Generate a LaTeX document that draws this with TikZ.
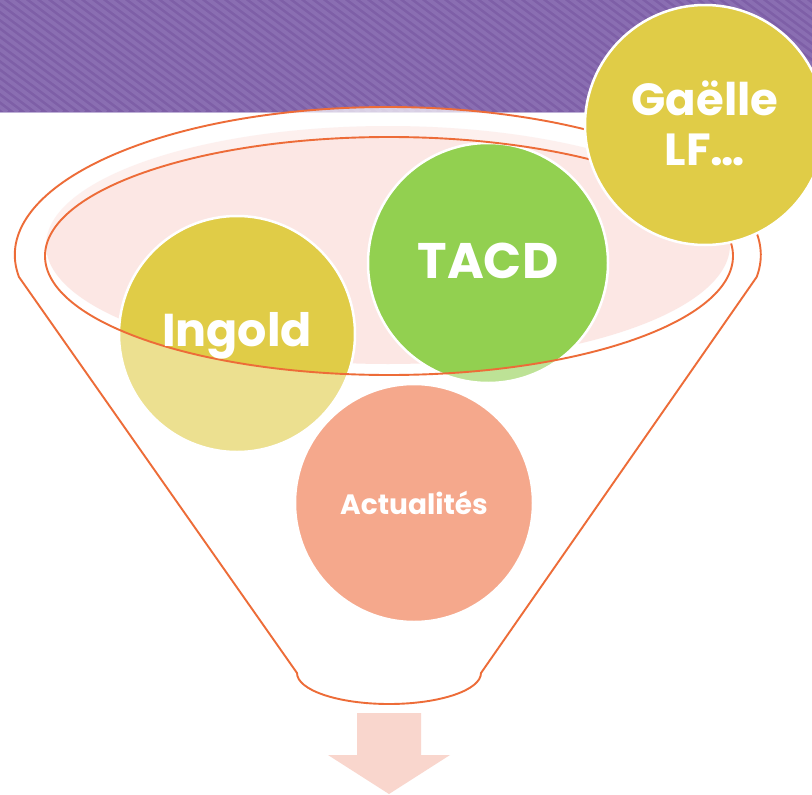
\documentclass[tikz,border=0pt]{standalone}
\usepackage{fontspec}
\setmainfont{Poppins}
\definecolor{bandbase}{RGB}{126,95,167}
\definecolor{bandstripe}{RGB}{138,110,178}
\definecolor{bandedge}{RGB}{190,176,214}
\definecolor{funnelline}{RGB}{237,108,56}
\definecolor{pinkfill}{RGB}{252,231,228}
\definecolor{yellowc}{RGB}{224,204,71}
\definecolor{greenc}{RGB}{146,208,80}
\definecolor{salmonc}{RGB}{245,168,140}
\definecolor{arrowc}{RGB}{249,214,205}
\tikzset{
  bubble/.style={circle, draw=white, line width=2.5pt, minimum size=#1, inner sep=0pt},
  bubbletext/.style={text=white, font=\bfseries, align=center, inner sep=0pt},
  funneledge/.style={draw=funnelline, line width=1.9pt},
}
\begin{document}
\begin{tikzpicture}[x=1pt, y=-1pt]
\useasboundingbox (0,0) rectangle (812,795);
\fill[white] (0,0) rectangle (812,795);
% purple band
\begin{scope}
  \clip (0,0) rectangle (812,112);
  \fill[bandbase] (0,0) rectangle (812,112);
  \foreach \i in {-200,-189,...,820} {
    \draw[bandstripe, line width=3.8pt] (\i,-10) -- ++(163,122);
  }
\end{scope}
\draw[bandedge, line width=0.8pt] (0,112.5) -- (812,112.5);
% outer funnel (semi-transparent fill over band)
\def\funnelpath{(19,277) arc[start angle=171.45, end angle=368.55, x radius=373, y radius=148] -- (481,673) arc[start angle=0, end angle=180, x radius=92, y radius=31] -- cycle}
\fill[white, opacity=0.5] \funnelpath;
% pink rim
\fill[pinkfill] (388,245) ellipse[x radius=342, y radius=119];
% circles inside funnel
\node[bubble=236pt, fill=yellowc] (ingold) at (237,334) {};
\node[bubble=240pt, fill=greenc] (tacd) at (488,263) {};
% front overlay lightening the part below the rim
\fill[white, opacity=0.4, even odd rule] \funnelpath (389,256) ellipse[x radius=344, y radius=119];
% funnel outlines
\draw[funneledge] \funnelpath;
\draw[funneledge] (389,256) ellipse[x radius=344, y radius=119];
% other circles
\node[bubble=238pt, fill=salmonc] (actu) at (414,503) {};
\node[bubble=240pt, fill=yellowc] (gaelle) at (705,125) {};
% texts
\node[bubbletext, font=\bfseries\fontsize{46}{46}\selectfont] at ([yshift=-2pt]ingold.center) {Ingold};
\node[bubbletext, font=\bfseries\fontsize{50}{50}\selectfont] at ([yshift=2pt]tacd.center) {TACD};
\node[bubbletext, font=\bfseries\fontsize{28}{28}\selectfont] at (actu.center) {Actualités};
\node[bubbletext, font=\bfseries\fontsize{45}{50}\selectfont] at ([yshift=2pt]gaelle.center) {Gaëlle\\LF…};
% arrow
\fill[arrowc] (357,713) -- (421,713) -- (421,755) -- (450,755) -- (389,794) -- (328,755) -- (357,755) -- cycle;
\end{tikzpicture}
\end{document}
